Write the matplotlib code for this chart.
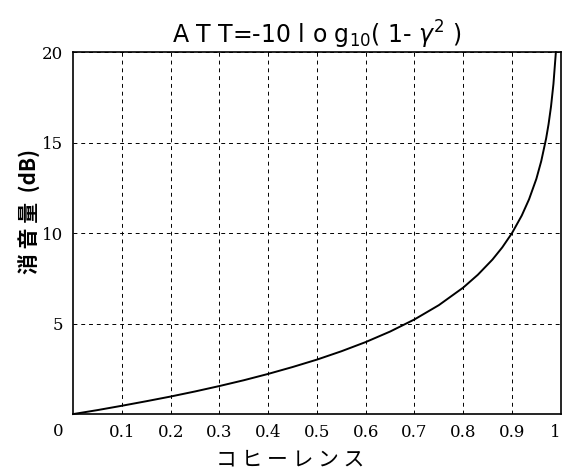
import numpy as np
import matplotlib
matplotlib.use('Agg')
import matplotlib.pyplot as plt

# coherence vs attenuation
coherence = [0, 0.05, 0.1, 0.15, 0.2, 0.25, 0.3, 0.35, 0.4, 0.45, 0.5, 0.55, 0.6,
             0.65, 0.7, 0.75, 0.8, 0.83, 0.86, 0.88, 0.9, 0.92, 0.935, 0.95,
             0.96, 0.97, 0.975, 0.98, 0.985, 0.99]
att_db = [0, 0.22, 0.46, 0.71, 0.97, 1.25, 1.55, 1.87, 2.22, 2.60, 3.01, 3.47, 3.98,
          4.56, 5.23, 6.02, 6.99, 7.70, 8.54, 9.21, 10.0, 10.97, 11.87, 13.0,
          13.98, 15.23, 16.02, 16.99, 18.24, 20.0]

xticks = [0.1, 0.2, 0.3, 0.4, 0.5, 0.6, 0.7, 0.8, 0.9, 1.0]
xticklabels = ['0.1', '0.2', '0.3', '0.4', '0.5', '0.6', '0.7', '0.8', '0.9', '1']
yticks = [5, 10, 15, 20]

fig = plt.figure(figsize=(5.63, 4.70), dpi=100)
ax = fig.add_axes([0.130, 0.119, 0.866, 0.770])

ax.plot(coherence, att_db, color='black', lw=1.4, clip_on=False)

ax.set_xlim(0, 1)
ax.set_ylim(0, 20)
ax.set_xticks(xticks)
ax.set_xticklabels(xticklabels, family='DejaVu Serif', fontsize=12)
ax.get_xticklabels()[-1].set_ha('right')
ax.set_yticks(yticks)
ax.set_yticklabels([str(v) for v in yticks], family='DejaVu Serif', fontsize=12)
ax.tick_params(length=0, pad=7)
ax.grid(True, color='black', ls=(0, (4, 4)), lw=0.7)
for s in ax.spines.values():
    s.set_linewidth(1.2)

# shared origin label
ax.text(-0.02, -0.025, '0', transform=ax.transAxes, ha='right', va='top',
        family='DejaVu Serif', fontsize=12)

ax.set_title(r'A T T=-10 l o g$_{10}$( 1- $\gamma^2$ )', fontsize=17, pad=6,
             family='DejaVu Sans')
ax.set_xlabel('コ ヒ ー レ ン ス', family='Noto Sans CJK JP', fontsize=15,
              labelpad=6)
ax.xaxis.set_label_coords(0.445, -0.095)
ax.set_ylabel('消 音 量  (dB)', family='Noto Sans CJK JP', fontsize=15,
              fontweight='bold')
ax.yaxis.set_label_coords(-0.065, 0.56)

plt.savefig('out.png', dpi=100)
